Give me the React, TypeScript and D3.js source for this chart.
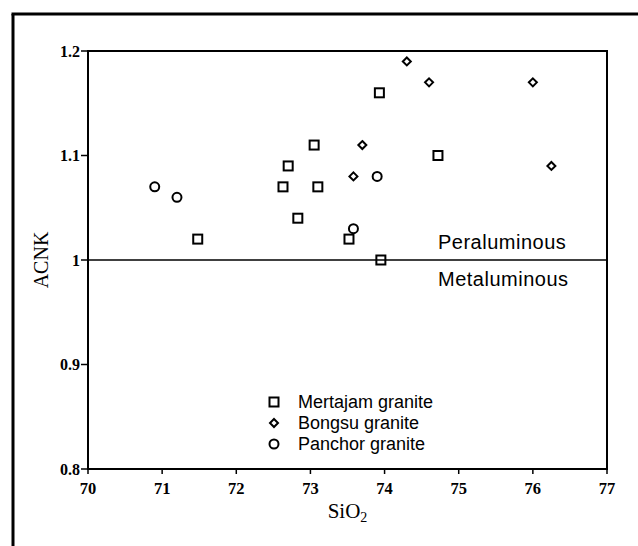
import React from "react";
import * as d3 from "d3";

// data
const mertajamX = [71.48, 72.63, 72.7, 72.83, 73.05, 73.1, 73.52, 73.93, 73.95, 74.72];
const mertajamY = [1.02, 1.07, 1.09, 1.04, 1.11, 1.07, 1.02, 1.16, 1.0, 1.1];
const bongsuX = [73.58, 73.7, 74.3, 74.6, 76.0, 76.25];
const bongsuY = [1.08, 1.11, 1.19, 1.17, 1.17, 1.09];
const panchorX = [70.9, 71.2, 73.58, 73.9];
const panchorY = [1.07, 1.06, 1.03, 1.08];

const xTicks = [70, 71, 72, 73, 74, 75, 76, 77];
const yTicks = [0.8, 0.9, 1, 1.1, 1.2];
const legendNames = ["Mertajam granite", "Bongsu granite", "Panchor granite"];

const serif = "'Liberation Serif', 'DejaVu Serif', serif";
const sans = "'Liberation Sans', Arial, sans-serif";

function Marker({ kind, x, y }: { kind: string; x: number; y: number }) {
  if (kind === "square") {
    return <rect x={x - 4.5} y={y - 4.5} width={9} height={9} fill="none" stroke="#000" strokeWidth={2} />;
  }
  if (kind === "diamond") {
    return (
      <path
        d={`M${x},${y - 4} L${x + 4},${y} L${x},${y + 4} L${x - 4},${y} Z`}
        fill="none"
        stroke="#000"
        strokeWidth={2}
      />
    );
  }
  return <circle cx={x} cy={y} r={4.5} fill="none" stroke="#000" strokeWidth={2} />;
}

export default function App() {
  const width = 638;
  const height = 546;
  const left = 88, right = 607, top = 51, bottom = 469;

  const x = d3.scaleLinear().domain([70, 77]).range([left, right]);
  const y = d3.scaleLinear().domain([0.8, 1.2]).range([bottom, top]);

  const series = [
    { kind: "square", xs: mertajamX, ys: mertajamY },
    { kind: "diamond", xs: bongsuX, ys: bongsuY },
    { kind: "circle", xs: panchorX, ys: panchorY },
  ];

  const fmtY = (d: number) => (d === 1 ? "1" : d.toFixed(1));

  return (
    <svg
      width={width}
      height={height}
      style={{ position: "absolute", left: 0, top: 0, background: "#fff" }}
    >
      <rect width={width} height={height} fill="#fff" />
      {/* outer frame */}
      <line x1={13} y1={14} x2={13} y2={height} stroke="#000" strokeWidth={3} />
      <line x1={11.5} y1={14} x2={width} y2={14} stroke="#000" strokeWidth={3} />

      {/* plot box */}
      <rect x={left} y={top} width={right - left} height={bottom - top} fill="none" stroke="#000" strokeWidth={2} />

      {/* y ticks */}
      {yTicks.map((t) => (
        <g key={t}>
          <line x1={left - 7} x2={left} y1={y(t)} y2={y(t)} stroke="#000" strokeWidth={1.5} />
          <text
            x={left - 8}
            y={y(t)}
            dy="0.35em"
            textAnchor="end"
            fontFamily={serif}
            fontWeight="bold"
            fontSize={16}
          >
            {fmtY(t)}
          </text>
        </g>
      ))}

      {/* x ticks */}
      {xTicks.map((t) => (
        <g key={t}>
          <line x1={x(t)} x2={x(t)} y1={bottom} y2={bottom + 5} stroke="#000" strokeWidth={1.5} />
          <text x={x(t)} y={bottom + 25} textAnchor="middle" fontFamily={serif} fontWeight="bold" fontSize={16.5}>
            {t}
          </text>
        </g>
      ))}

      {/* axis titles */}
      <text
        transform={`translate(48, ${(top + bottom) / 2}) rotate(-90)`}
        textAnchor="middle"
        fontFamily={serif}
        fontSize={20}
      >
        ACNK
      </text>
      <text x={(left + right) / 2} y={518} textAnchor="middle" fontFamily={serif} fontSize={21}>
        SiO<tspan fontSize={14} dy={4}>2</tspan>
      </text>

      {/* ACNK = 1 divider */}
      <line x1={left} x2={right} y1={y(1)} y2={y(1)} stroke="#000" strokeWidth={1.5} />
      <text x={438} y={y(1) - 11} fontFamily={sans} fontSize={20} letterSpacing={0.5}>
        Peraluminous
      </text>
      <text x={438} y={y(1) + 26} fontFamily={sans} fontSize={20} letterSpacing={0.5}>
        Metaluminous
      </text>

      {/* points */}
      {series.map((s) =>
        s.xs.map((v, i) => <Marker key={s.kind + i} kind={s.kind} x={x(v)} y={y(s.ys[i])} />),
      )}

      {/* legend */}
      {legendNames.map((name, i) => (
        <g key={name}>
          <Marker kind={series[i].kind} x={274} y={402 + i * 21} />
          <text x={298} y={402 + i * 21} dy="0.35em" fontFamily={sans} fontSize={18}>
            {name}
          </text>
        </g>
      ))}
    </svg>
  );
}
